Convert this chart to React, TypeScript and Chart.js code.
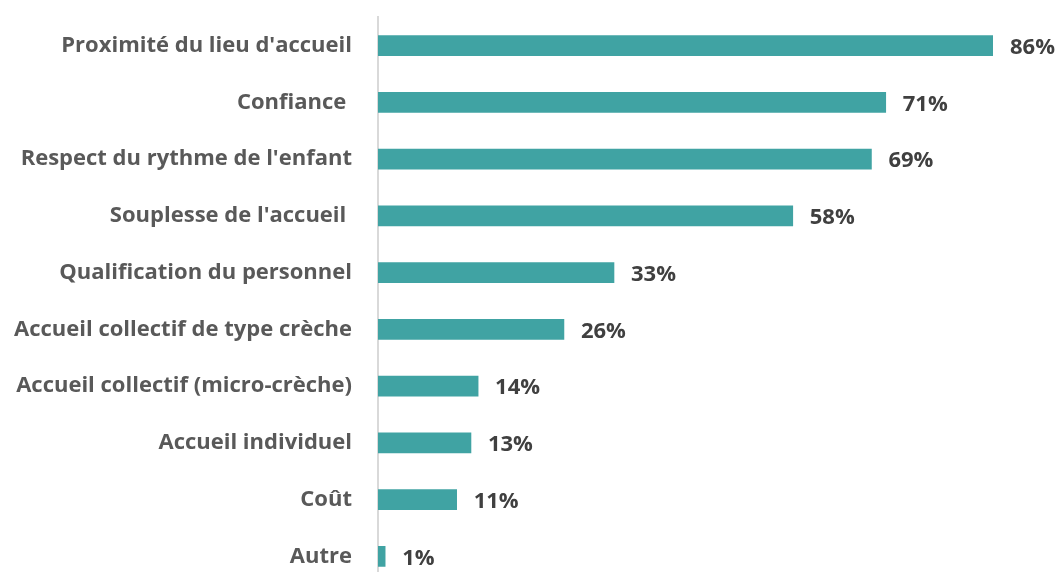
import React, { useEffect, useRef } from "react";
import { Chart, registerables } from "chart.js";

Chart.register(...registerables);

const categories = [
  "Proximité du lieu d'accueil",
  "Confiance ",
  "Respect du rythme de l'enfant",
  "Souplesse de l'accueil ",
  "Qualification du personnel",
  "Accueil collectif de type crèche",
  "Accueil collectif (micro-crèche)",
  "Accueil individuel",
  "Coût",
  "Autre",
];
const values = [86, 71, 69, 58, 33, 26, 14, 13, 11, 1];
const valueLabels = ["86%", "71%", "69%", "58%", "33%", "26%", "14%", "13%", "11%", "1%"];

const FONT = "'Open Sans', sans-serif";

const dataLabelPlugin = {
  id: "dataLabels",
  afterDatasetsDraw(chart: any) {
    const ctx = chart.ctx;
    const meta = chart.getDatasetMeta(0);
    ctx.save();
    ctx.fillStyle = "#404040";
    ctx.font = `bold 22px ${FONT}`;
    ctx.textAlign = "left";
    ctx.textBaseline = "middle";
    meta.data.forEach((bar: any, i: number) => {
      ctx.fillText(valueLabels[i], bar.x + 17, bar.y + 2);
    });
    ctx.restore();
  },
};

export default function App() {
  const ref = useRef<HTMLCanvasElement>(null);
  useEffect(() => {
    if (!ref.current) return;
    const chart = new Chart(ref.current, {
      type: "bar",
      data: {
        labels: categories,
        datasets: [
          {
            data: values,
            backgroundColor: "#40A3A3",
            borderWidth: 0,
            barThickness: 20,
          },
        ],
      },
      options: {
        indexAxis: "y",
        responsive: false,
        animation: false,
        layout: { padding: { top: 0, right: 65, bottom: 0, left: 0 } },
        plugins: { legend: { display: false }, tooltip: { enabled: false } },
        scales: {
          x: { display: false, min: 0, max: 86 },
          y: {
            afterFit: (scale: any) => {
              scale.width = 378;
            },
            grid: { display: false, drawTicks: false },
            border: { display: true, color: "#d9d9d9", width: 2 },
            ticks: {
              color: "#595959",
              padding: 26,
              font: { family: FONT, size: 22, weight: "bold" },
            },
          },
        },
      },
      plugins: [dataLabelPlugin],
    });
    return () => chart.destroy();
  }, []);
  return (
    <div
      style={{
        position: "fixed",
        left: 0,
        top: 0,
        width: 1058,
        height: 572,
        overflow: "hidden",
        background: "#fff",
      }}
    >
      <canvas
        ref={ref}
        width={1058}
        height={646}
        style={{ width: 1058, height: 646, display: "block", position: "absolute", left: 0, top: -22 }}
      />
    </div>
  );
}
